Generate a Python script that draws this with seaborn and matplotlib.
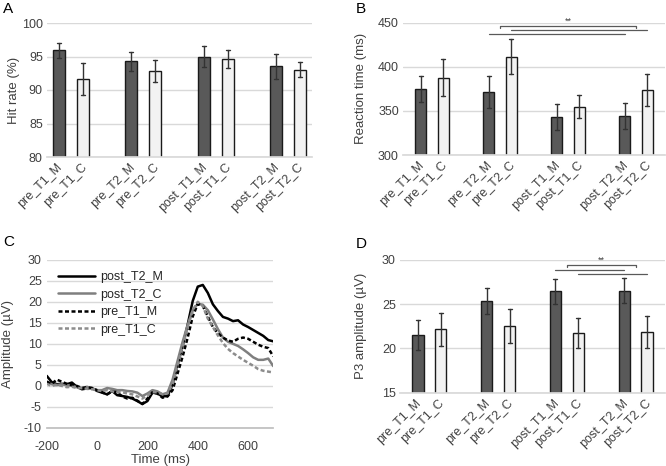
import numpy as np
import pandas as pd
import matplotlib.pyplot as plt
import matplotlib.transforms as mtransforms
import seaborn as sns

# Bedingungen (Balken) und Gruppen
conds = ["pre_T1_M", "pre_T1_C", "pre_T2_M", "pre_T2_C",
         "post_T1_M", "post_T1_C", "post_T2_M", "post_T2_C"]
groups = ["M", "C", "M", "C", "M", "C", "M", "C"]

# A: Hit rate (%)
hit_mean = [95.9, 91.6, 94.3, 92.9, 94.95, 94.65, 93.55, 93.05]
hit_err = [1.05, 2.4, 1.4, 1.65, 1.55, 1.35, 1.85, 1.15]

# B: Reaction time (ms)
rt_mean = [375.3, 387.4, 371.2, 411.6, 342.8, 354.5, 344.3, 373.8]
rt_err = [14.7, 21.0, 18.3, 19.7, 14.9, 13.0, 14.7, 17.7]

# D: P3 amplitude (µV)
p3_mean = [21.55, 22.15, 25.32, 22.53, 26.45, 21.74, 26.53, 21.85]
p3_err = [1.7, 1.9, 1.47, 1.95, 1.45, 1.75, 1.4, 1.85]

times = list(range(-200, 701, 20))
post_T2_M = [2.4, 0.9, 0.4, 0.5, 0.4, 0.8, -0.2, -0.8, -0.6, -0.5, -1.2, -1.6, -2.0, -1.2, -2.2, -2.4,
             -2.6, -3.0, -3.6, -4.3, -3.6, -1.6, -1.8, -2.5, -2.4, 0.4, 5.1, 9.5, 14.6, 20.2, 23.6, 24.0,
             22.1, 19.4, 17.8, 16.4, 16.0, 15.4, 15.6, 14.6, 14.0, 13.3, 12.6, 11.9, 10.9, 10.6]
post_T2_C = [1.0, 0.4, 0.2, 0.4, 0.2, 0.0, -0.3, -0.5, -0.2, -0.6, -1.0, -1.0, -0.5, -0.7, -1.0, -1.0,
             -1.2, -1.3, -1.6, -2.4, -1.8, -1.0, -1.3, -2.0, -1.6, 1.5, 6.0, 10.5, 14.5, 18.0, 19.5, 19.3,
             18.0, 15.8, 13.5, 11.5, 10.5, 10.0, 9.5, 8.7, 7.8, 6.8, 6.2, 6.2, 6.5, 4.7]
pre_T1_M = [1.0, 0.5, 1.5, 1.0, 0.5, 0.2, 0.0, -0.5, -0.3, -0.5, -1.0, -1.5, -2.0, -1.3, -1.5, -2.5,
            -3.0, -2.8, -3.5, -4.3, -3.0, -1.5, -1.8, -2.8, -2.5, -1.0, 3.0, 7.0, 11.5, 16.5, 19.5, 19.0,
            16.5, 14.0, 12.5, 11.5, 10.8, 10.5, 11.2, 11.5, 11.2, 10.5, 9.8, 9.3, 9.0, 7.0]
pre_T1_C = [0.5, 0.0, 0.3, 0.0, -0.3, -0.2, -0.5, -0.5, -0.7, -0.8, -1.0, -1.2, -1.0, -1.3, -1.5, -1.5,
            -1.8, -2.0, -2.5, -3.0, -2.2, -1.5, -1.5, -2.0, -1.8, 0.5, 5.0, 9.5, 14.0, 18.0, 20.0, 19.0,
            16.0, 14.0, 12.0, 10.2, 8.8, 7.8, 7.0, 6.2, 5.5, 4.8, 4.0, 3.6, 3.4, 3.2]

# Reihenfolge mit Leerplätzen als Abstand zwischen den Paaren
order = ["pre_T1_M", "pre_T1_C", " ", "pre_T2_M", "pre_T2_C", "  ",
         "post_T1_M", "post_T1_C", "   ", "post_T2_M", "post_T2_C"]

sns.set_theme(style="white")
plt.rcParams['font.family'] = ['Liberation Sans', 'DejaVu Sans']
plt.rcParams['axes.unicode_minus'] = False
txt = "#404040"
grid_c = "#d9d9d9"
pal = {"M": "#595959", "C": "#f2f2f2"}


def bar_df(means, errs):
    # zwei Zeilen pro Bedingung (mean-err, mean+err) -> Fehlerbalken über Spannweite
    rows = []
    for c, g, m, e in zip(conds, groups, means, errs):
        rows.append({"cond": c, "grp": g, "val": m - e})
        rows.append({"cond": c, "grp": g, "val": m + e})
    return pd.DataFrame(rows)


def bar_panel(ax, means, errs, ylim, step, ylabel, lab_x):
    df = bar_df(means, errs)
    sns.barplot(ax=ax, data=df, x="cond", y="val", hue="grp", order=order, palette=pal,
                dodge=False, width=0.5, errorbar=("pi", 100), capsize=0.17,
                err_kws={"color": "#333333", "linewidth": 1.0},
                edgecolor="#1a1a1a", linewidth=1.0, legend=False)
    ax.set_ylim(*ylim)
    ax.set_yticks(np.arange(ylim[0], ylim[1] + 0.1, step))
    ax.yaxis.grid(True, color=grid_c, linewidth=1)
    ax.set_axisbelow(True)
    for s in ["left", "top", "right"]:
        ax.spines[s].set_visible(False)
    ax.spines["bottom"].set_color(grid_c)
    ax.tick_params(axis="both", length=0, labelsize=9, colors=txt, pad=3)
    offset = mtransforms.ScaledTranslation(6 / 100, 0, ax.figure.dpi_scale_trans)
    for lab in ax.get_xticklabels():
        lab.set_rotation(45)
        lab.set_ha("right")
        lab.set_transform(lab.get_transform() + offset)
    ax.set_xlabel("")
    ax.set_ylabel(ylabel, fontsize=9.5, color=txt)
    ax.yaxis.set_label_coords(lab_x, 0.5)


def bracket(ax, a1, a2, b1, b2, y_top, y_l1, y_l2, tick):
    # Signifikanz-Klammer: obere Klammer zwischen Paar-Mitten, darunter zwei Linien
    xa = (order.index(a1) + order.index(a2)) / 2
    xb = (order.index(b1) + order.index(b2)) / 2
    kw = dict(color="#595959", linewidth=0.9, clip_on=False)
    ax.plot([xa, xa, xb, xb], [y_top - tick, y_top, y_top, y_top - tick], **kw)
    ax.plot([order.index(a2), order.index(b2)], [y_l1, y_l1], **kw)
    ax.plot([order.index(a1), order.index(b1)], [y_l2, y_l2], **kw)
    ax.text((xa + xb) / 2, y_top, "**", ha="center", va="bottom", fontsize=6.5, color=txt)


fig = plt.figure(figsize=(6.66, 4.66), dpi=100)
W, H = 666, 466


def add_ax(l, t, r, b):
    return fig.add_axes([l / W, 1 - b / H, (r - l) / W, (b - t) / H])


axA = add_ax(47, 23, 312, 157)
axB = add_ax(403, 22.7, 665, 155)
axC = add_ax(46.7, 259.7, 273.3, 428)
axD = add_ax(400, 260, 665, 392.5)

bar_panel(axA, hit_mean, hit_err, (80, 100), 5, "Hit rate (%)", -0.10)
bar_panel(axB, rt_mean, rt_err, (300, 450), 50, "Reaction time (ms)", -0.137)
bar_panel(axD, p3_mean, p3_err, (15, 30), 5, "P3 amplitude (\u00b5V)", -0.124)

bracket(axB, "pre_T2_M", "pre_T2_C", "post_T2_M", "post_T2_C", 446.8, 441.7, 436.8, 2.3)
bracket(axD, "post_T1_M", "post_T1_C", "post_T2_M", "post_T2_C", 29.43, 28.38, 28.9, 0.25)

# C: ERP
erp = pd.DataFrame({
    "time": times * 4,
    "amp": post_T2_M + post_T2_C + pre_T1_M + pre_T1_C,
    "cond": ["post_T2_M"] * len(times) + ["post_T2_C"] * len(times)
            + ["pre_T1_M"] * len(times) + ["pre_T1_C"] * len(times),
})
line_pal = {"post_T2_M": "#000000", "post_T2_C": "#7f7f7f",
            "pre_T1_M": "#000000", "pre_T1_C": "#8c8c8c"}
line_dash = {"post_T2_M": "", "post_T2_C": "", "pre_T1_M": (1.6, 1.0), "pre_T1_C": (1.6, 1.0)}
sns.lineplot(ax=axC, data=erp, x="time", y="amp", hue="cond", style="cond",
             palette=line_pal, dashes=line_dash, linewidth=1.8)
axC.set_xlim(-200, 700)
axC.set_ylim(-10, 30)
axC.set_xticks([-200, 0, 200, 400, 600])
axC.set_yticks(np.arange(-10, 31, 5))
axC.yaxis.grid(True, color=grid_c, linewidth=1)
axC.set_axisbelow(True)
for s in ["left", "top", "right"]:
    axC.spines[s].set_visible(False)
axC.spines["bottom"].set_color("#bfbfbf")
axC.tick_params(axis="y", length=0, labelsize=9, colors=txt)
axC.tick_params(axis="x", direction="in", length=3, color="#bfbfbf", labelsize=9, labelcolor=txt, pad=9)
axC.set_xlabel("Time (ms)", fontsize=9.5, color=txt)
axC.xaxis.set_label_coords(0.5, -0.155)
axC.set_ylabel("Amplitude (\u00b5V)", fontsize=9.5, color=txt)
axC.yaxis.set_label_coords(-0.144, 0.5)
axC.legend(loc="upper left", bbox_to_anchor=(0.0, 1.0), frameon=False, fontsize=9,
           handlelength=3.0, handletextpad=0.4, labelspacing=0.45, title=None)

# Panel-Buchstaben
for letter, x, y in [("A", 3, 2), ("B", 356, 2), ("C", 3, 235), ("D", 356, 237)]:
    fig.text(x / W, 1 - y / H, letter, fontsize=11, va="top", ha="left", color="#000000")

fig.savefig("out.png", dpi=100)
